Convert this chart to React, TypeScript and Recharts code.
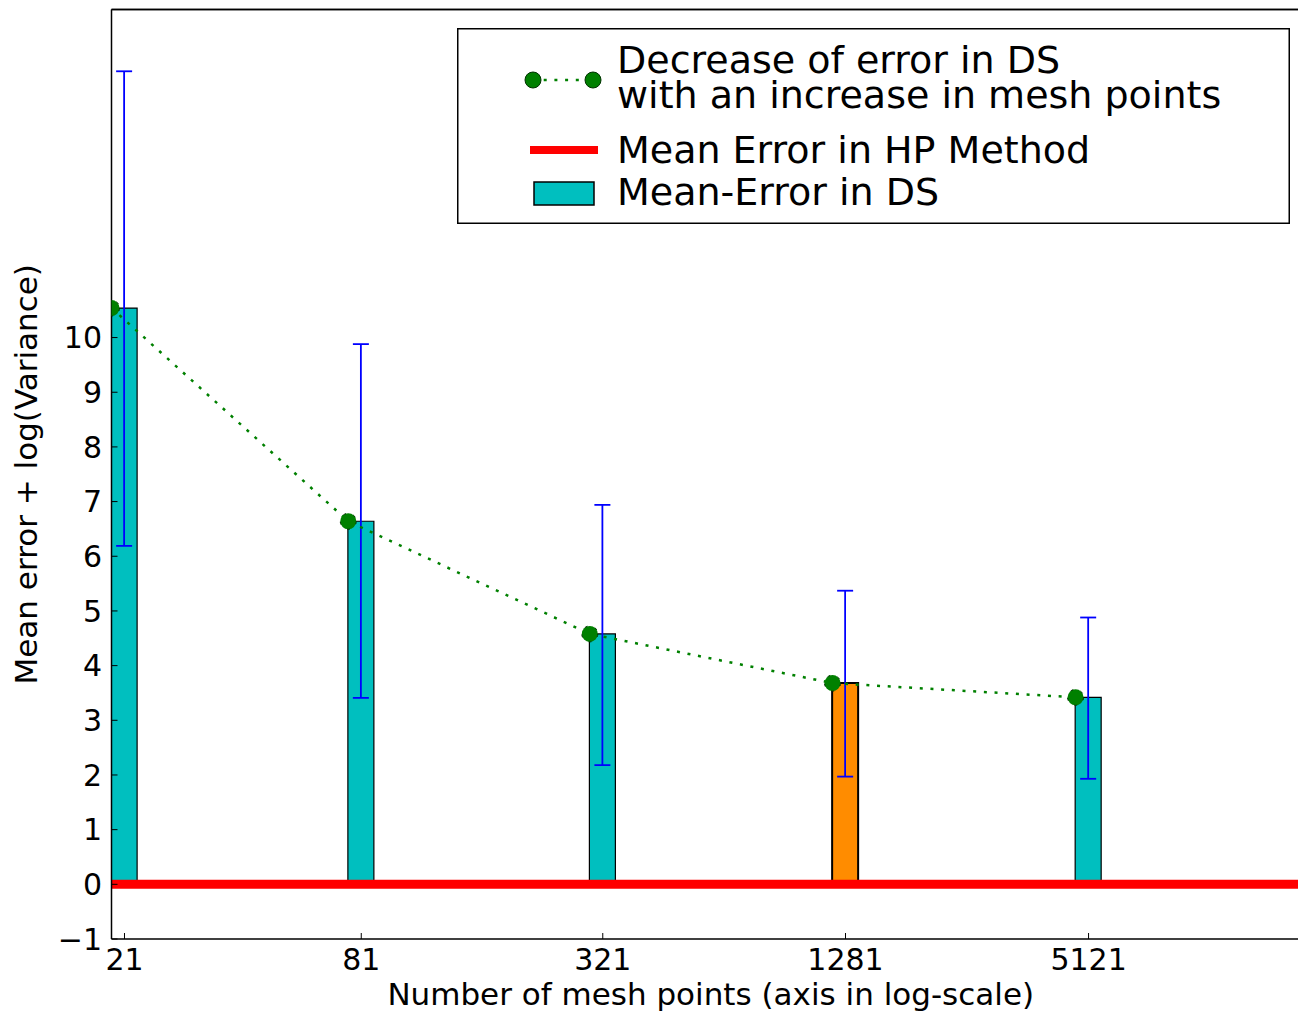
import React from 'react'
import { ComposedChart, Bar, Line, XAxis, YAxis, ErrorBar, ReferenceLine, Cell, Legend, Label } from 'recharts'

// mesh sizes (x axis, log scale) and the DS errors
const meshPoints = [21, 81, 321, 1281, 5121]
const meanErrorDS = [10.54, 6.64, 4.58, 3.68, 3.42]
const errorLow = [6.19, 3.41, 2.18, 1.97, 1.93]
const errorHigh = [14.87, 9.88, 6.94, 5.37, 4.88]
const yTicks = [-1, 0, 1, 2, 3, 4, 5, 6, 7, 8, 9, 10]
const hpMeanError = 0
const highlightedMesh = 1281

const data = meshPoints.map((m, i) => ({
  mesh: m,
  mean: meanErrorDS[i],
  err: [meanErrorDS[i] - errorLow[i], errorHigh[i] - meanErrorDS[i]],
}))

const FONT = '"DejaVu Sans", sans-serif'
const TEAL = '#00bfbf'
const ORANGE = '#ff8c00'
const GREEN = '#008000'

// bars are centred on the tick; the line sits on the left edge of each bar,
// so it lives on a second (hidden) log axis shifted by half a bar
const barDomain = [19.5, 18100]
const lineDomain = [21, 19492]
const yDomain = [-1, 16]

const fmtY = (v: number) => (v < 0 ? '\u2212' + Math.abs(v) : String(v))

function LegendBox() {
  return (
    <svg width={833} height={196} style={{ display: 'block', fontFamily: FONT }}>
      <rect x={0.75} y={0.75} width={831.5} height={194.5} fill="#fff" stroke="#000" strokeWidth={1.5} />
      <line x1={76} y1={52} x2={136} y2={52} stroke={GREEN} strokeWidth={2.5} strokeDasharray="3 7.7" />
      <circle cx={76} cy={52} r={8} fill={GREEN} stroke="#003300" strokeWidth={1} />
      <circle cx={136} cy={52} r={8} fill={GREEN} stroke="#003300" strokeWidth={1} />
      <text x={160} y={45} fontSize={38} fill="#000">Decrease of error in DS</text>
      <text x={160} y={80} fontSize={38} fill="#000">with an increase in mesh points</text>
      <line x1={73} y1={122} x2={141} y2={122} stroke="#ff0000" strokeWidth={8} />
      <text x={160} y={135} fontSize={38} fill="#000">Mean Error in HP Method</text>
      <rect x={77} y={154} width={60} height={23} fill={TEAL} stroke="#000" strokeWidth={1.5} />
      <text x={160} y={177} fontSize={38} fill="#000">Mean-Error in DS</text>
    </svg>
  )
}

function XTitle(props: any) {
  const vb = props.viewBox
  return (
    <text x={vb.x + vb.width / 2} y={vb.y + 66} textAnchor="middle" fontSize={31} fill="#000" fontFamily={FONT}>
      Number of mesh points (axis in log-scale)
    </text>
  )
}

function YTitle(props: any) {
  const vb = props.viewBox
  const cx = 37
  const cy = vb.y + vb.height / 2
  return (
    <text x={cx} y={cy} textAnchor="middle" fontSize={31} fill="#000" fontFamily={FONT} transform={`rotate(-90, ${cx}, ${cy})`}>
      Mean error + log(Variance)
    </text>
  )
}

export default function App() {
  const tickStyle = { fill: '#000', fontSize: 30, fontFamily: FONT }
  const spine = { stroke: '#000', strokeWidth: 1.5 }
  const tickLn = { stroke: '#000', strokeWidth: 1 }
  return (
    <div style={{ width: 1298, height: 1014, background: '#fff', fontFamily: FONT }}>
      <style>{'body { margin: 0; }'}</style>
      <ComposedChart width={1298} height={1014} data={data} margin={{ top: 8.5, right: -12, bottom: 0, left: 0 }}>
        <XAxis
          xAxisId="bar"
          dataKey="mesh"
          type="number"
          scale="log"
          domain={barDomain}
          allowDataOverflow
          ticks={meshPoints}
          height={75}
          tickSize={-6}
          tickMargin={16}
          tick={tickStyle}
          axisLine={spine}
          tickLine={tickLn}
        >
          <Label content={XTitle} />
        </XAxis>
        <XAxis
          xAxisId="top"
          orientation="top"
          dataKey="mesh"
          type="number"
          scale="log"
          domain={barDomain}
          allowDataOverflow
          ticks={meshPoints}
          height={1}
          tickSize={-6}
          tick={false}
          axisLine={spine}
          tickLine={tickLn}
        />
        <XAxis xAxisId="line" dataKey="mesh" type="number" scale="log" domain={lineDomain} allowDataOverflow hide />
        <YAxis
          type="number"
          domain={yDomain}
          allowDataOverflow
          ticks={yTicks}
          width={111.5}
          tickSize={-6}
          tickMargin={15.5}
          tick={tickStyle}
          tickFormatter={fmtY}
          axisLine={spine}
          tickLine={tickLn}
        >
          <Label content={YTitle} />
        </YAxis>
        <Legend layout="vertical" align="center" verticalAlign="middle" content={LegendBox} wrapperStyle={{ left: 457, top: 28, width: 833, height: 196 }} />
        <Bar xAxisId="bar" dataKey="mean" barSize={26} isAnimationActive={false}>
          {data.map(d => (
            <Cell
              key={d.mesh}
              fill={d.mesh === highlightedMesh ? ORANGE : TEAL}
              stroke="#000"
              strokeWidth={d.mesh === highlightedMesh ? 2 : 1.2}
            />
          ))}
          <ErrorBar dataKey="err" direction="y" width={8} stroke="#0000ff" strokeWidth={1.8} />
        </Bar>
        <Line
          xAxisId="line"
          dataKey="mean"
          type="linear"
          stroke={GREEN}
          strokeWidth={2.5}
          strokeDasharray="3 7.7"
          dot={{ r: 8, fill: GREEN, stroke: '#003300', strokeWidth: 1 }}
          activeDot={false}
          isAnimationActive={false}
        />
        <ReferenceLine xAxisId="bar" y={hpMeanError} stroke="#ff0000" strokeWidth={9} />
        <ReferenceLine xAxisId="bar" y={yDomain[1]} stroke="#000" strokeWidth={1.5} />
      </ComposedChart>
    </div>
  )
}
